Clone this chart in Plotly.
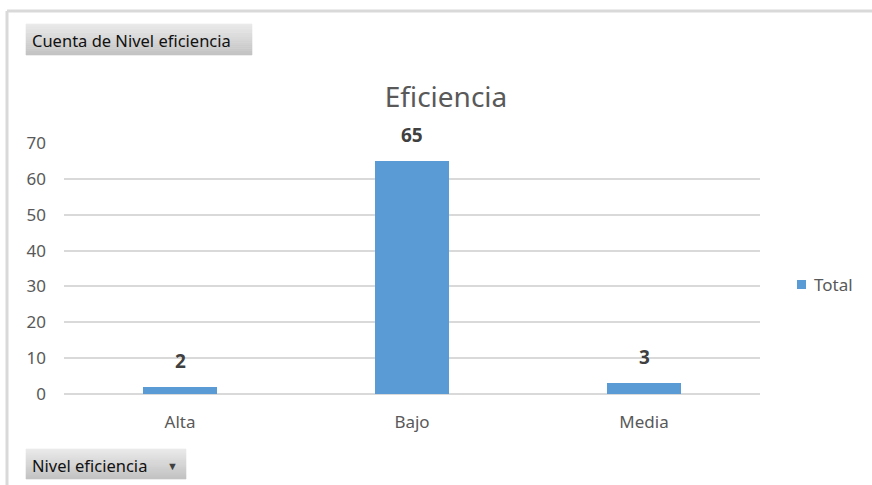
import plotly.graph_objects as go

# Pivot chart data: count of records per efficiency level
categories = ["Alta", "Bajo", "Media"]
totals = [2, 65, 3]
y_ticks = [0, 10, 20, 30, 40, 50, 60, 70]
series_name = "Total"

W, H = 872, 485
BAR_COLOR = "#5B9BD5"
GRID = "#D9D9D9"
TEXT = "#595959"
FONT = "Noto Sans"

# plot area in pixels
PX_L, PX_R, PX_T, PX_B = 64, 760, 143, 394


def px_x(v):
    return v / W


def px_y(v):
    return 1 - v / H


fig = go.Figure()
fig.add_trace(go.Bar(
    x=categories, y=totals, name=series_name,
    marker=dict(color=BAR_COLOR, line=dict(width=0)),
    width=0.315, showlegend=False,
))

# value labels above the bars
annotations = []
for c, v in zip(categories, totals):
    annotations.append(dict(
        x=c, y=v, xref="x", yref="y", text=f"<b>{v}</b>",
        showarrow=False, yanchor="bottom", yshift=11,
        font=dict(family=FONT, size=19, color="#404040"),
    ))


def button(x0, y0, x1, y1, steps=15):
    """Gray gradient button made of stacked strips."""
    out = []
    top = (234, 234, 234)
    bot = (196, 196, 196)
    for i in range(steps):
        t = i / (steps - 1)
        col = tuple(int(top[k] + (bot[k] - top[k]) * t) for k in range(3))
        ya = y0 + (y1 - y0) * i / steps
        yb = y0 + (y1 - y0) * (i + 1) / steps
        out.append(dict(
            type="rect", xref="paper", yref="paper",
            x0=px_x(x0), x1=px_x(x1), y0=px_y(yb), y1=px_y(ya),
            fillcolor="rgb(%d,%d,%d)" % col,
            line=dict(width=0.6, color="rgb(%d,%d,%d)" % col),
            layer="above",
        ))
    return out


shapes = []
# chart frame lines (top and left)
shapes.append(dict(type="line", xref="paper", yref="paper",
                   x0=px_x(7), x1=1, y0=px_y(11), y1=px_y(11),
                   line=dict(color="#D9D9D9", width=3)))
shapes.append(dict(type="line", xref="paper", yref="paper",
                   x0=px_x(7), x1=px_x(7), y0=px_y(11), y1=0,
                   line=dict(color="#D9D9D9", width=3)))
shapes += button(26, 24, 252, 55)
shapes += button(26, 449, 186, 479)

# legend key
shapes.append(dict(type="rect", xref="paper", yref="paper",
                   x0=px_x(797), x1=px_x(806), y0=px_y(289), y1=px_y(280),
                   fillcolor=BAR_COLOR, line=dict(width=0)))
annotations.append(dict(
    x=px_x(812), y=px_y(284), xref="paper", yref="paper",
    text=series_name, showarrow=False, xanchor="left", yanchor="middle",
    font=dict(family=FONT, size=17, color=TEXT),
))

annotations.append(dict(
    x=px_x(30), y=px_y(40), xref="paper", yref="paper",
    text="Cuenta de Nivel eficiencia", showarrow=False,
    xanchor="left", yanchor="middle",
    font=dict(family=FONT, size=16.5, color="#111111"),
))
annotations.append(dict(
    x=px_x(30), y=px_y(465), xref="paper", yref="paper",
    text="Nivel eficiencia", showarrow=False,
    xanchor="left", yanchor="middle",
    font=dict(family=FONT, size=16.5, color="#111111"),
))
annotations.append(dict(
    x=px_x(172), y=px_y(465), xref="paper", yref="paper",
    text="▼", showarrow=False, xanchor="center", yanchor="middle",
    font=dict(family=FONT, size=11, color="#404040"),
))

fig.update_layout(
    width=W, height=H,
    margin=dict(l=0, r=0, t=0, b=0),
    paper_bgcolor="white", plot_bgcolor="white",
    font=dict(family=FONT, color=TEXT),
    title=dict(text="Eficiencia", x=px_x(446), y=px_y(97),
               xref="container", yref="container",
               xanchor="center", yanchor="middle",
               font=dict(family=FONT, size=28, color=TEXT)),
    xaxis=dict(domain=[px_x(PX_L), px_x(PX_R)], showgrid=False,
               showline=False, ticks="", tickfont=dict(size=17, color=TEXT),
               ticklabelstandoff=16, automargin=False),
    yaxis=dict(domain=[px_y(PX_B), px_y(PX_T)], range=[0, 70],
               tickvals=y_ticks, showgrid=True, gridcolor=GRID, gridwidth=1.5,
               zeroline=True, zerolinecolor=GRID, zerolinewidth=1.5,
               showline=False, ticks="", tickfont=dict(size=17, color=TEXT),
               ticklabelstandoff=17, automargin=False),
    showlegend=False,
    shapes=shapes,
    annotations=annotations,
    bargap=0,
)

fig.write_html("out.html")
